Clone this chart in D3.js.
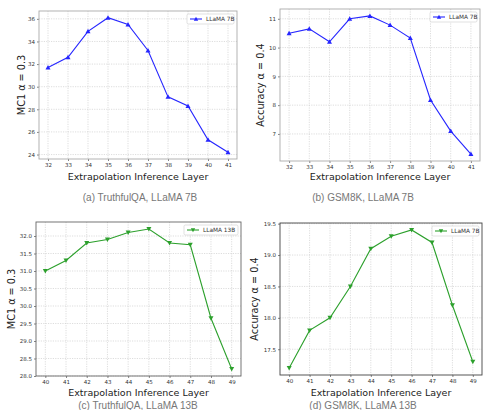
<!DOCTYPE html>
<html>
<head>
<meta charset="utf-8">
<script src="https://cdn.jsdelivr.net/npm/d3@7"></script>
<style>
  body { margin: 0; background: #fff; }
  svg { display: block; }
</style>
</head>
<body>
<div class="container"></div>
<script>
var layers7b = [32,33,34,35,36,37,38,39,40,41];
var layers13b = [40,41,42,43,44,45,46,47,48,49];

var truthful7b = [31.7,32.6,34.9,36.1,35.5,33.2,29.1,28.3,25.3,24.2];
var gsm7b = [10.5,10.65,10.2,11.0,11.1,10.78,10.33,8.18,7.1,6.3];
var truthful13b = [31.0,31.3,31.8,31.9,32.1,32.2,31.8,31.75,29.65,28.2];
var gsm13b = [17.2,17.8,18.0,18.5,19.1,19.3,19.4,19.2,18.2,17.3];

var ticks7bTruthful = [24,26,28,30,32,34,36];
var ticks7bGsm = [7,8,9,10,11];
var ticks13bTruthful = [28.0,28.5,29.0,29.5,30.0,30.5,31.0,31.5,32.0];
var ticks13bGsm = [17.5,18.0,18.5,19.0,19.5];

const WIDTH = 484;
const HEIGHT = 410;
const BLUE = "#2626ff";
const GREEN = "#2ca02c";

var translate = function(x, y){
  return "translate("+x+","+y+")";
};

var panels = [
  {x: layers7b, y: truthful7b, ticks: ticks7bTruthful, fmt: d3.format("d"),
   left: 39, top: 11, right: 237, bottom: 159, color: BLUE, marker: "up",
   legend: "LLaMA 7B", ylab: "MC1 \u03b1 = 0.3", ylabX: 22,
   caption: "(a) TruthfulQA, LLaMA 7B", capX: 140, xlabY: 180, capY: 201, frame: "#aaa"},
  {x: layers7b, y: gsm7b, ticks: ticks7bGsm, fmt: d3.format("d"),
   left: 280, top: 9, right: 480, bottom: 161, color: BLUE, marker: "up",
   legend: "LLaMA 7B", ylab: "Accuracy \u03b1 = 0.4", ylabX: 261,
   caption: "(b) GSM8K, LLaMA 7B", capX: 363, xlabY: 180, capY: 201, frame: "#aaa"},
  {x: layers13b, y: truthful13b, ticks: ticks13bTruthful, fmt: d3.format(".1f"),
   left: 36, top: 222, right: 241, bottom: 376, color: GREEN, marker: "down",
   legend: "LLaMA 13B", ylab: "MC1 \u03b1 = 0.3", ylabX: 12,
   caption: "(c) TruthfulQA, LLaMA 13B", capX: 138, xlabY: 396, capY: 409, frame: "#666"},
  {x: layers13b, y: gsm13b, ticks: ticks13bGsm, fmt: d3.format(".1f"),
   left: 280, top: 223, right: 482, bottom: 375, color: GREEN, marker: "down",
   legend: "LLaMA 7B", ylab: "Accuracy \u03b1 = 0.4", ylabX: 255,
   caption: "(d) GSM8K, LLaMA 13B", capX: 363, xlabY: 396, capY: 409, frame: "#444"}
];

var triangle = function(dir, s){
  if (dir === "up") return "M0,"+(-s)+"L"+s+","+(s*0.8)+"L"+(-s)+","+(s*0.8)+"Z";
  return "M0,"+s+"L"+s+","+(-s*0.8)+"L"+(-s)+","+(-s*0.8)+"Z";
};

var drawPanel = function(svg, p){
  var ext = d3.extent(p.y);
  var pad = (ext[1] - ext[0]) * 0.05;

  var xScale = d3.scaleLinear()
    .domain([p.x[0] - 0.45, p.x[p.x.length-1] + 0.45])
    .range([p.left, p.right]);
  var yScale = d3.scaleLinear()
    .domain([ext[0] - pad, ext[1] + pad])
    .range([p.bottom, p.top]);

  var g = svg.append('g');

  // grid
  g.append('g').selectAll('line').data(p.x).enter().append('line')
    .attr('x1', function(d){return xScale(d)}).attr('x2', function(d){return xScale(d)})
    .attr('y1', p.top).attr('y2', p.bottom)
    .attr('stroke', '#cfcfcf').attr('stroke-width', 0.7).attr('stroke-dasharray', '1.2,1.2');
  g.append('g').selectAll('line').data(p.ticks).enter().append('line')
    .attr('y1', function(d){return yScale(d)}).attr('y2', function(d){return yScale(d)})
    .attr('x1', p.left).attr('x2', p.right)
    .attr('stroke', '#cfcfcf').attr('stroke-width', 0.7).attr('stroke-dasharray', '1.2,1.2');

  // axes
  var xAxis = d3.axisBottom(xScale).tickValues(p.x).tickSize(2).tickPadding(2).tickFormat(d3.format("d"));
  var yAxis = d3.axisLeft(yScale).tickValues(p.ticks).tickSize(2).tickPadding(2).tickFormat(p.fmt);
  var ax = g.append('g').attr('transform', translate(0, p.bottom)).call(xAxis);
  var ay = g.append('g').attr('transform', translate(p.left, 0)).call(yAxis);
  [ax, ay].forEach(function(a){
    a.select('.domain').remove();
    a.selectAll('line').attr('stroke', '#333').attr('stroke-width', 0.6);
    a.selectAll('text').attr('font-size', 5.5).attr('font-family', 'DejaVu Sans').attr('fill', '#333');
  });

  // frame
  g.append('rect')
    .attr('x', p.left).attr('y', p.top)
    .attr('width', p.right - p.left).attr('height', p.bottom - p.top)
    .attr('fill', 'none').attr('stroke', p.frame).attr('stroke-width', 0.9);

  // line
  var line = d3.line()
    .x(function(d,i){return xScale(p.x[i])})
    .y(function(d){return yScale(d)});
  g.append('path').datum(p.y)
    .attr('d', line).attr('fill', 'none')
    .attr('stroke', p.color).attr('stroke-width', 1.1);
  g.append('g').selectAll('path').data(p.y).enter().append('path')
    .attr('d', triangle(p.marker, 2.5))
    .attr('transform', function(d,i){return translate(xScale(p.x[i]), yScale(d))})
    .attr('fill', p.color);

  // legend
  var lw = p.legend.length > 8 ? 54 : 47;
  var lg = g.append('g').attr('transform', translate(p.right - lw - 3, p.top + 3));
  lg.append('rect').attr('width', lw).attr('height', 10).attr('rx', 1.5)
    .attr('fill', '#fff').attr('stroke', '#ccc').attr('stroke-width', 0.6);
  lg.append('line').attr('x1', 3).attr('x2', 15).attr('y1', 5).attr('y2', 5)
    .attr('stroke', p.color).attr('stroke-width', 1.1);
  lg.append('path').attr('d', triangle(p.marker, 2.2)).attr('transform', translate(9, 5)).attr('fill', p.color);
  lg.append('text').attr('x', 19).attr('y', 7.2).text(p.legend)
    .attr('font-size', 5.8).attr('font-family', 'DejaVu Sans').attr('fill', '#333');

  // labels
  var cx = (p.left + p.right) / 2;
  g.append('text').attr('x', cx).attr('y', p.xlabY).attr('text-anchor', 'middle')
    .attr('font-family', 'DejaVu Sans').attr('font-size', 9.5).attr('fill', '#222')
    .text("Extrapolation Inference Layer");
  g.append('text').attr('transform', translate(p.ylabX, (p.top + p.bottom) / 2) + " rotate(-90)")
    .attr('text-anchor', 'middle').attr('dy', '0.35em')
    .attr('font-family', 'DejaVu Sans').attr('font-size', 9.7).attr('fill', '#222')
    .text(p.ylab);
  g.append('text').attr('x', p.capX).attr('y', p.capY).attr('text-anchor', 'middle')
    .attr('font-family', 'Liberation Sans').attr('font-size', 10).attr('fill', '#777')
    .text(p.caption);
};

var generateChart = function(){
  var svg = d3.select('.container').append('svg')
    .attr('width', WIDTH).attr('height', HEIGHT);
  panels.forEach(function(p){ drawPanel(svg, p); });
};

window.onload = generateChart;
</script>
</body>
</html>
